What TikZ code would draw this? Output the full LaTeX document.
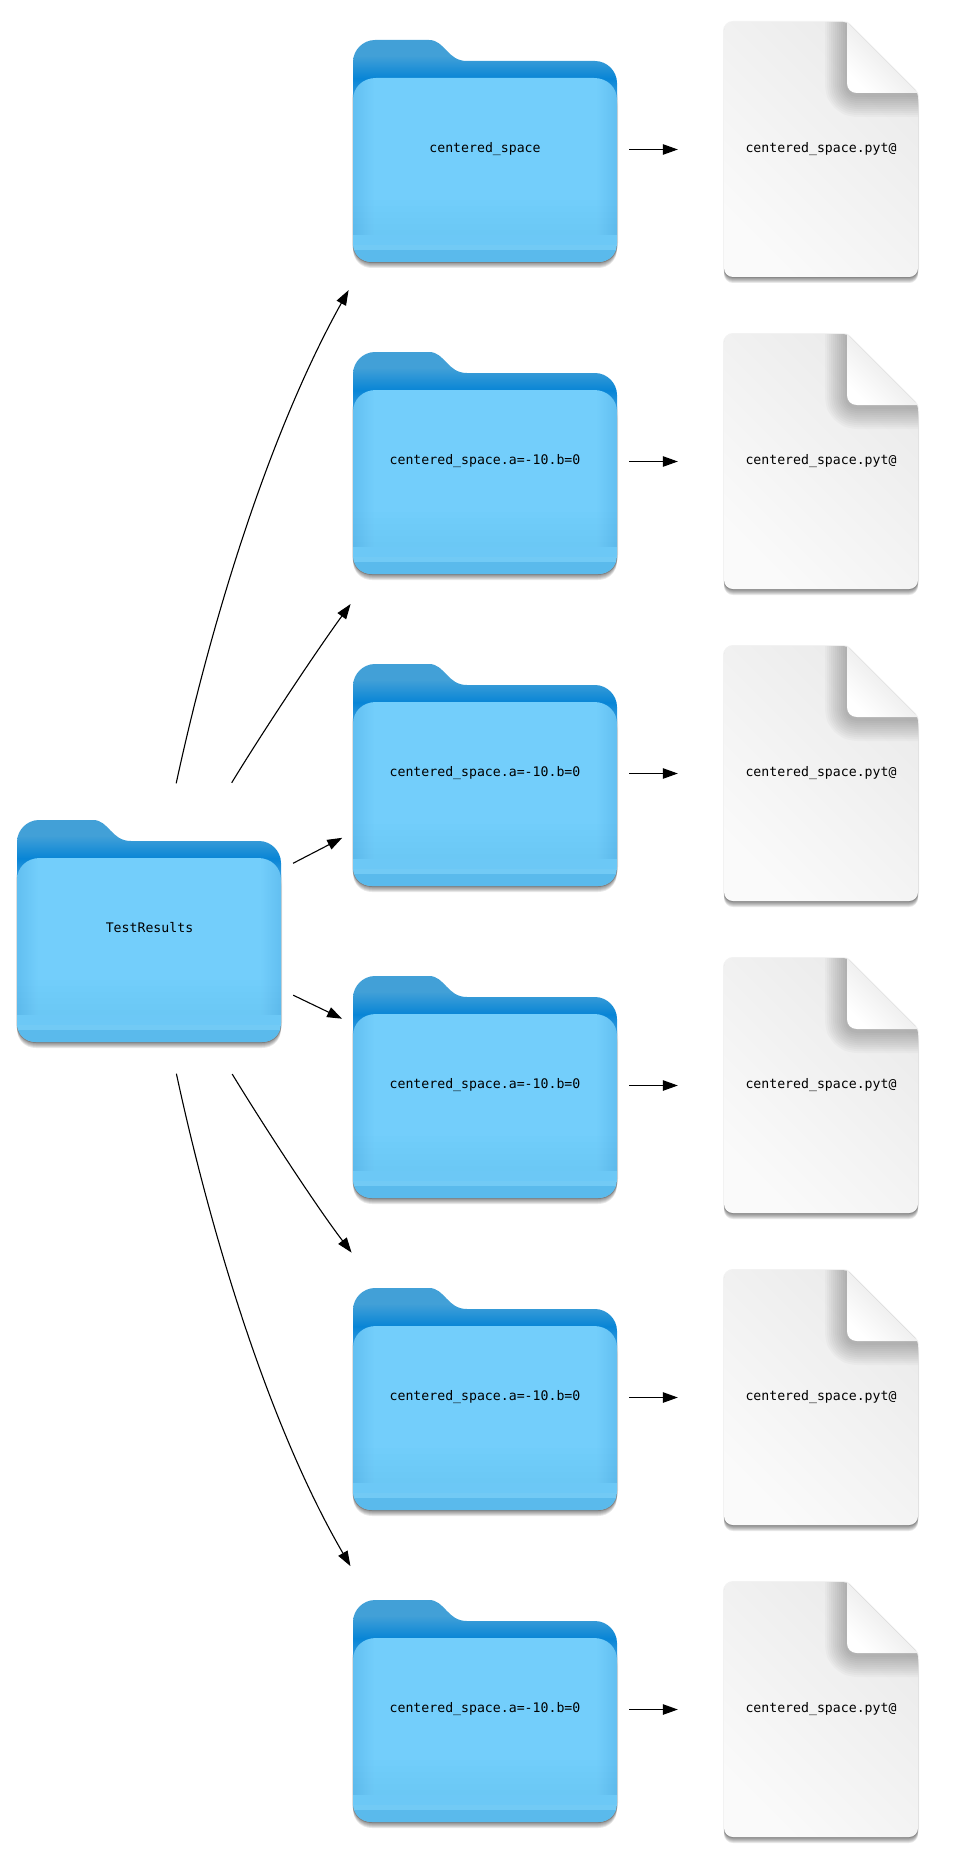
\documentclass[tikz,border=0pt]{standalone}
\usepackage{fontspec}
\setmonofont{DejaVu Sans Mono}
\usepackage{xcolor}
\usetikzlibrary{arrows.meta}

\definecolor{backtop}{HTML}{42A0D7}
\definecolor{backlow}{HTML}{0885D6}
\definecolor{backside}{HTML}{3DA0E0}
\definecolor{faceblue}{HTML}{73CEFB}
\definecolor{faceedge}{HTML}{62BFF1}
\definecolor{bandblue}{HTML}{6CC8F6}
\definecolor{striptop}{HTML}{72CAF5}
\definecolor{lipblue}{HTML}{5ABAEC}
\pgfdeclareverticalshading{folderback}{100bp}{color(0bp)=(backside); color(25bp)=(backside); color(43bp)=(backlow); color(62bp)=(backtop); color(75bp)=(backtop); color(100bp)=(backtop)}
\pgfdeclarehorizontalshading{folderface}{100bp}{color(0bp)=(faceedge); color(25bp)=(faceedge); color(29bp)=(faceblue); color(71bp)=(faceblue); color(75bp)=(faceedge); color(100bp)=(faceedge)}

\newcommand{\backpath}{(0,60) -- (0,22) .. controls (0,10) and (10,0) .. (22,0) -- (76,0) .. controls (92,0) and (94,21) .. (114,21) -- (242,21) .. controls (254,21) and (264,31) .. (264,43) -- (264,60) -- cycle}
\newcommand{\frontpath}{(0,60) .. controls (0,47) and (10,38) .. (23,38) -- (241,38) .. controls (254,38) and (264,47) .. (264,60) -- (264,203) .. controls (264,214) and (256,222) .. (245,222) -- (19,222) .. controls (8,222) and (0,214) .. (0,203) -- cycle}
\newcommand{\pagepath}{(9,0) -- (119,0) .. controls (122,0) and (124,1) .. (126,3) -- (191,68) .. controls (193,70) and (194,73) .. (194,77) -- (194,246) .. controls (194,251) and (190,255) .. (185,255) -- (9,255) .. controls (4,255) and (0,251) .. (0,246) -- (0,9) .. controls (0,4) and (4,0) .. (9,0) -- cycle}
\newcommand{\foldpath}{(123,0) -- (194,71) -- (133,71) .. controls (127,71) and (123,67) .. (123,61) -- cycle}

\tikzset{
    folderart/.pic={
        \draw[black, opacity=0.12, line width=2pt] \frontpath;
        \foreach \s in {1,2,3,4,5,6} {
            \fill[black, opacity=0.09, yshift=-\s pt] \frontpath;
        }
        \path[shading=folderback] \backpath;
        \path[shading=folderface] \frontpath;
        \begin{scope}
            \clip \frontpath;
            \foreach \t in {160,166,...,190} {
                \fill[backside, opacity=0.02] (0,\t) rectangle (264,195);
            }
            \fill[bandblue] (0,195) rectangle (264,205);
            \fill[striptop] (0,205) rectangle (264,210);
            \fill[lipblue] (0,210) rectangle (264,222);
        \end{scope}
    },
    pageart/.pic={
        \draw[black, opacity=0.05, line width=2pt] \pagepath;
        \foreach \s in {1,2,3,4,5,6} {
            \fill[black, opacity=0.09, yshift=-\s pt] \pagepath;
        }
        \path[left color=white!98!black, right color=white!92!black, shading angle=135] \pagepath;
        \begin{scope}
            \clip \pagepath;
            \foreach \w in {4,8,...,44} {
                \draw[black, opacity=0.025, line width=\w pt, line join=round, yshift=-2pt] \foldpath;
            }
        \end{scope}
        \path[left color=white, right color=white!88!black, shading angle=135] \foldpath;
    },
    folderlabel/.style={minimum width=265pt, minimum height=225pt, inner sep=0pt, text=black, font=\ttfamily\fontsize{13.2}{16}\selectfont},
    pagelabel/.style={minimum width=194pt, minimum height=255pt, inner sep=0pt, text=black, font=\ttfamily\fontsize{13.2}{16}\selectfont},
    flow/.style={-{Triangle[length=15pt, width=10.5pt]}, black, line width=1.1pt}
}

\begin{document}
\begin{tikzpicture}[x=1pt, y=-1pt]
    \useasboundingbox (0,0) rectangle (971,1859);

    \pic at (17,820) {folderart};
    \node[folderlabel, minimum height=229pt] (root) at (149.5,928) {TestResults};

    \pic at (353,40) {folderart};
    \node[folderlabel] (f1) at (485,149.5) {centered\_space};
    \pic at (353,352) {folderart};
    \node[folderlabel] (f2) at (485,461.5) {centered\_space.a=-10.b=0};
    \pic at (353,664) {folderart};
    \node[folderlabel] (f3) at (485,773.5) {centered\_space.a=-10.b=0};
    \pic at (353,976) {folderart};
    \node[folderlabel] (f4) at (485,1085.5) {centered\_space.a=-10.b=0};
    \pic at (353,1288) {folderart};
    \node[folderlabel] (f5) at (485,1397.5) {centered\_space.a=-10.b=0};
    \pic at (353,1600) {folderart};
    \node[folderlabel] (f6) at (485,1709.5) {centered\_space.a=-10.b=0};

    \pic at (724,22) {pageart};
    \node[pagelabel] (p1) at (821,149.5) {centered\_space.pyt@};
    \pic at (724,334) {pageart};
    \node[pagelabel] (p2) at (821,461.5) {centered\_space.pyt@};
    \pic at (724,646) {pageart};
    \node[pagelabel] (p3) at (821,773.5) {centered\_space.pyt@};
    \pic at (724,958) {pageart};
    \node[pagelabel] (p4) at (821,1085.5) {centered\_space.pyt@};
    \pic at (724,1270) {pageart};
    \node[pagelabel] (p5) at (821,1397.5) {centered\_space.pyt@};
    \pic at (724,1582) {pageart};
    \node[pagelabel] (p6) at (821,1709.5) {centered\_space.pyt@};

    \draw[flow, shorten <=30.7pt, shorten >=32pt] (root.80) .. controls (211,622) and (269,433) .. (f1.223.4);
    \draw[flow, shorten <=35.8pt, shorten >=36.9pt] (root.61.5) .. controls (262,733) and (315,653) .. (f2.225.2);
    \draw[flow, shorten <=12.2pt, shorten >=11.3pt] (root.24.5) -- (f3.204.7);
    \draw[flow, shorten <=12.2pt, shorten >=11.3pt] (root.-25) -- (f4.155.1);
    \draw[flow, shorten <=36.7pt, shorten >=40.5pt] (root.-61.5) .. controls (262,1123) and (316,1206) .. (f5.134.6);
    \draw[flow, shorten <=31.7pt, shorten >=35.5pt] (root.-80) .. controls (211,1234.5) and (269,1426) .. (f6.136.6);

    \draw[flow, shorten <=11.5pt, shorten >=46pt] (f1) -- (p1);
    \draw[flow, shorten <=11.5pt, shorten >=46pt] (f2) -- (p2);
    \draw[flow, shorten <=11.5pt, shorten >=46pt] (f3) -- (p3);
    \draw[flow, shorten <=11.5pt, shorten >=46pt] (f4) -- (p4);
    \draw[flow, shorten <=11.5pt, shorten >=46pt] (f5) -- (p5);
    \draw[flow, shorten <=11.5pt, shorten >=46pt] (f6) -- (p6);
\end{tikzpicture}
\end{document}
